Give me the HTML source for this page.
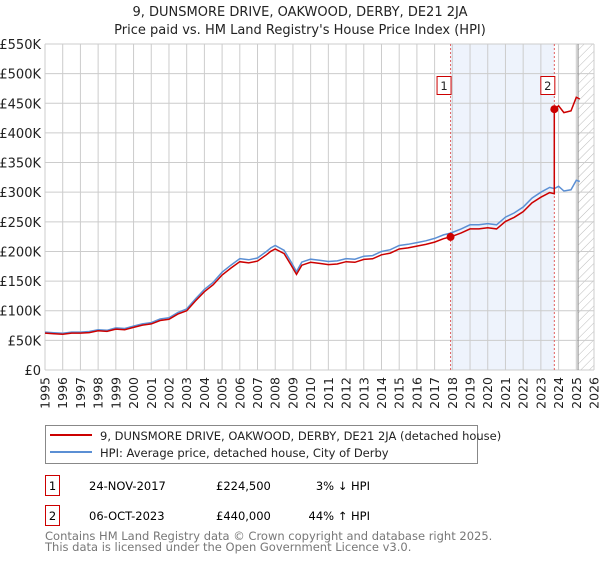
<!DOCTYPE html>
<html><head><meta charset="utf-8"><style>
body{margin:0;background:#fff;font-family:"DejaVu Sans","Liberation Sans",sans-serif;}
svg text{font-family:"DejaVu Sans","Liberation Sans",sans-serif;}
</style></head><body>
<svg id="c" width="600" height="560" xmlns="http://www.w3.org/2000/svg">
<defs><pattern id="hatch" width="6" height="6" patternUnits="userSpaceOnUse" patternTransform="rotate(45)"><line x1="0" y1="0" x2="0" y2="6" stroke="#bbb" stroke-width="1"/></pattern></defs>
<text x="300" y="16" text-anchor="middle" font-size="13" fill="#222">9, DUNSMORE DRIVE, OAKWOOD, DERBY, DE21 2JA</text>
<text x="300" y="34" text-anchor="middle" font-size="13" fill="#222">Price paid vs. HM Land Registry's House Price Index (HPI)</text>
<g id="plot"></g>
<g>
<rect x="45.5" y="425.5" width="432" height="38" fill="#fff" stroke="#888"/>
<line x1="50" y1="435" x2="92" y2="435" stroke="#cc0000" stroke-width="2"/>
<text x="100" y="440" font-size="11.5" fill="#222">9, DUNSMORE DRIVE, OAKWOOD, DERBY, DE21 2JA (detached house)</text>
<line x1="50" y1="452" x2="92" y2="452" stroke="#5b8fd4" stroke-width="2"/>
<text x="100" y="457" font-size="11.5" fill="#222">HPI: Average price, detached house, City of Derby</text>
</g>
<g>
<rect x="45.5" y="475.5" width="14" height="20" fill="#fff" stroke="#cc0000"/>
<text x="52.5" y="490" text-anchor="middle" font-size="11.5">1</text>
<text x="89" y="490" font-size="11.5">24-NOV-2017</text>
<text x="216" y="490" font-size="11.5">£224,500</text>
<text x="370" y="490" font-size="11.5" text-anchor="end">3% ↓ HPI</text>
<rect x="45.5" y="505.5" width="14" height="20" fill="#fff" stroke="#cc0000"/>
<text x="52.5" y="520" text-anchor="middle" font-size="11.5">2</text>
<text x="89" y="520" font-size="11.5">06-OCT-2023</text>
<text x="216" y="520" font-size="11.5">£440,000</text>
<text x="370" y="520" font-size="11.5" text-anchor="end">44% ↑ HPI</text>
</g>
<text x="45" y="540" font-size="11.5" fill="#777">Contains HM Land Registry data © Crown copyright and database right 2025.</text>
<text x="45" y="551" font-size="11.5" fill="#777">This data is licensed under the Open Government Licence v3.0.</text>
</svg>
<script>
const yTicks=[0,50,100,150,200,250,300,350,400,450,500,550];
const yLabels=["£0","£50K","£100K","£150K","£200K","£250K","£300K","£350K","£400K","£450K","£500K","£550K"];
const years=[1995,1996,1997,1998,1999,2000,2001,2002,2003,2004,2005,2006,2007,2008,2009,2010,2011,2012,2013,2014,2015,2016,2017,2018,2019,2020,2021,2022,2023,2024,2025,2026];
const hpiT=[1995,1995.5,1996,1996.5,1997,1997.5,1998,1998.5,1999,1999.5,2000,2000.5,2001,2001.5,2002,2002.5,2003,2003.5,2004,2004.5,2005,2005.5,2006,2006.5,2007,2007.5,2007.75,2008,2008.5,2008.9,2009.2,2009.5,2010,2010.5,2011,2011.5,2012,2012.5,2013,2013.5,2014,2014.5,2015,2015.5,2016,2016.5,2017,2017.5,2017.9,2018.5,2019,2019.5,2020,2020.5,2021,2021.5,2022,2022.5,2023,2023.5,2023.76,2024,2024.3,2024.7,2025,2025.2];
const hpiV=[64,63,62,64,64,65,68,67,71,70,74,78,80,86,88,97,103,120,136,148,165,177,188,186,189,200,206,210,202,182,166,182,187,185,183,184,188,187,192,193,200,203,210,212,215,218,222,228,231,238,245,245,247,245,258,265,275,290,300,308,306,310,302,304,320,318];
const saleT=[2017.9,2023.76];
const saleV=[224.5,440];
const X0=45,X1=594,Y0=370,Y1=44;
const x=t=>X0+(t-1995)*(X1-X0)/31;
const y=v=>Y0-v*(Y0-Y1)/550;
const NS="http://www.w3.org/2000/svg";
const g=document.getElementById('plot');
function mk(tag,a){const e=document.createElementNS(NS,tag);for(const k in a)e.setAttribute(k,a[k]);g.appendChild(e);return e;}
let r=mk('rect',{x:x(saleT[0]),y:Y1,width:x(saleT[1])-x(saleT[0]),height:Y0-Y1,fill:'#eef3fc'});


let h=mk('rect',{x:x(2025.1),y:Y1,width:X1-x(2025.1),height:Y0-Y1,fill:'url(#hatch)'});


yTicks.forEach((v,i)=>{
 let l=mk('line',{x1:X0,x2:X1,y1:y(v),y2:y(v),stroke:'#ccc','stroke-width':1});
 
 
 let t=mk('text',{x:X0-4,y:y(v)+5,'text-anchor':'end','font-size':13,fill:'#222'});
 t.textContent=yLabels[i];
 
 
});
years.forEach(yr=>{
 let l=mk('line',{x1:x(yr),x2:x(yr),y1:Y1,y2:Y0,stroke:'#ccc','stroke-width':1});
 
 
 let t=mk('text',{transform:`translate(${x(yr)+4.5},377) rotate(-90)`,'text-anchor':'end','font-size':12.5,fill:'#222'});
 t.textContent=yr;
 
 
});
let vl=mk('line',{x1:x(2025.1),x2:x(2025.1),y1:Y1,y2:Y0,stroke:'#888','stroke-width':1});


saleT.forEach((t,i)=>{
 let l=mk('line',{x1:x(t),x2:x(t),y1:Y1,y2:Y0,stroke:'#e06060','stroke-width':1,'stroke-dasharray':'2,2'});
 
 
});
function interp(t){for(let i=1;i<hpiT.length;i++){if(t<=hpiT[i]){const f=(t-hpiT[i-1])/(hpiT[i]-hpiT[i-1]);return hpiV[i-1]+f*(hpiV[i]-hpiV[i-1]);}}return hpiV[hpiV.length-1];}
const r1=saleV[0]/interp(saleT[0]), r2=saleV[1]/interp(saleT[1]);
let hp=hpiT.map((t,i)=>`${x(t).toFixed(1)},${y(hpiV[i]).toFixed(1)}`).join(' ');
let blue=mk('polyline',{points:hp,fill:'none',stroke:'#5b8fd4','stroke-width':1.5});


let rp=[];
hpiT.forEach((t,i)=>{if(t<saleT[1])rp.push(`${x(t).toFixed(1)},${y(hpiV[i]*r1).toFixed(1)}`);});
rp.push(`${x(saleT[1]).toFixed(1)},${y(interp(saleT[1])*r1).toFixed(1)}`);
hpiT.forEach((t,i)=>{if(t>=saleT[1])rp.push(`${x(t).toFixed(1)},${y(hpiV[i]*r2).toFixed(1)}`);});
let red=mk('polyline',{points:rp.join(' '),fill:'none',stroke:'#cc0000','stroke-width':1.5});


saleT.forEach((t,i)=>{
 let c=mk('circle',{cx:x(t),cy:y(saleV[i]),r:4,fill:'#cc0000'});
 
 
 let b=mk('rect',{x:x(t)-13.5,y:76.5,width:14,height:18,fill:'#fff',stroke:'#cc0000'});
 
 
 let tx=mk('text',{x:x(t)-6.5,y:90,'text-anchor':'middle','font-size':11.5,fill:'#222'});
 tx.textContent=String(i+1);
 
 
});
</script>
</body></html>
